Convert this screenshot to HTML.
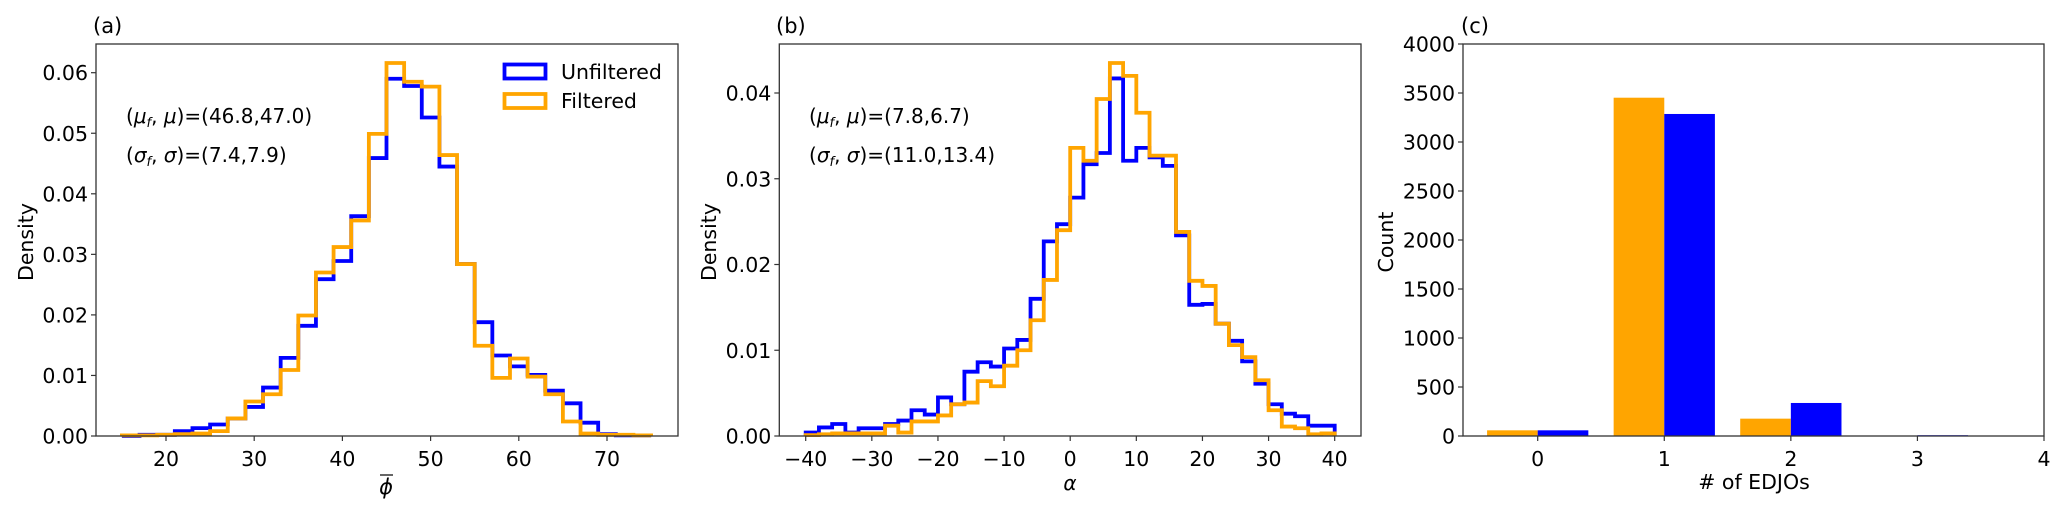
<!DOCTYPE html>
<html><head><meta charset="utf-8"><style>
body{margin:0;background:#fff}
svg text{font-family:"DejaVu Sans","Liberation Sans",sans-serif;fill:#000}
</style></head><body>
<svg id="fig" width="2067" height="514" xmlns="http://www.w3.org/2000/svg"></svg>
<script>
// Panel (a) data: bins 15..75 step 2
const phiEdgesStart = 15, phiBinWidth = 2;
const phiUnfiltered = [0,0.0002,0.0002,0.0008,0.0013,0.0019,0.0029,0.0048,0.008,0.0129,0.0182,0.0259,0.0289,0.0363,0.0459,0.059,0.0578,0.0526,0.0445,0.0284,0.0188,0.0133,0.0115,0.0101,0.0075,0.0054,0.0022,0.0003,0.0001,0.0001];
const phiFiltered = [0.0001,0.0001,0.0002,0.0003,0.0004,0.0008,0.0029,0.0057,0.0069,0.0109,0.0199,0.027,0.0312,0.0356,0.0499,0.0616,0.0585,0.0577,0.0464,0.0284,0.0149,0.0096,0.0128,0.0098,0.0069,0.0024,0.0004,0.0002,0.0002,0.0001];
const phiXTicks = [20,30,40,50,60,70];
const phiYTicks = [0,0.01,0.02,0.03,0.04,0.05,0.06];
// Panel (b) data: bins -40..40 step 2
const alphaEdgesStart = -40, alphaBinWidth = 2;
const alphaUnfiltered = [0.0004,0.001,0.0014,0.0004,0.0009,0.0009,0.0014,0.0018,0.003,0.0025,0.0045,0.0037,0.0075,0.0086,0.0081,0.0102,0.0112,0.016,0.0227,0.0247,0.0278,0.0317,0.033,0.0417,0.0321,0.0336,0.0325,0.0315,0.0234,0.0153,0.0154,0.0131,0.0111,0.0087,0.0061,0.0037,0.0026,0.0023,0.0012,0.0012];
const alphaFiltered = [0.0001,0.0002,0.0003,0.0003,0.0003,0.0003,0.0012,0.0004,0.0017,0.0017,0.0024,0.0037,0.0039,0.0064,0.0058,0.0082,0.01,0.0135,0.0182,0.024,0.0336,0.0321,0.0393,0.0435,0.042,0.0377,0.0327,0.0327,0.0238,0.0181,0.0175,0.0131,0.0106,0.0092,0.0065,0.003,0.0011,0.0009,0.0002,0.0003];
const alphaXTicks = [-40,-30,-20,-10,0,10,20,30,40];
const alphaYTicks = [0,0.01,0.02,0.03,0.04];
// Panel (c) data
const edjoCategories = [0,1,2,3];
const edjoFiltered = [58,3452,177,0];
const edjoUnfiltered = [58,3286,337,8];
const countYTicks = [0,500,1000,1500,2000,2500,3000,3500,4000];
const countXTicks = [0,1,2,3,4];

const FS=20.5;
const NS="http://www.w3.org/2000/svg";
const svg=document.getElementById('fig');
function el(tag,attrs,parent){const e=document.createElementNS(NS,tag);for(const k in attrs)e.setAttribute(k,attrs[k]);(parent||svg).appendChild(e);return e;}
function txt(s,x,y,attrs,parent){const t=el('text',Object.assign({x:x,y:y,'font-size':FS},attrs||{}),parent);t.textContent=s;return t;}
function lin(d0,d1,r0,r1){return v=>r0+(v-d0)*(r1-r0)/(d1-d0);}
const TOP=44,BOT=436;

function axesFrame(g,L,R,xs,ys,xt,yt,fmtY,fmtX){
  el('rect',{x:L,y:TOP,width:R-L,height:BOT-TOP,fill:'none',stroke:'#333','stroke-width':1.3},g);
  xt.forEach(v=>{const x=xs(v);
    const tk=el('line',{x1:x,x2:x,y1:BOT,y2:BOT+5,stroke:'#333','stroke-width':1.2},g);
    
    
    const t=txt(fmtX(v),x,BOT+30,{'text-anchor':'middle'},g);
    
    });
  yt.forEach(v=>{const y=ys(v);
    const tk=el('line',{x1:L-5,x2:L,y1:y,y2:y,stroke:'#333','stroke-width':1.2},g);
    
    
    const t=txt(fmtY(v),L-8,y+7.5,{'text-anchor':'end'},g);
    
    });
}
function stepPath(start,w,vals,xs,ys){
  let d='M'+xs(start)+','+ys(0);
  vals.forEach((v,i)=>{const x0=xs(start+i*w),x1=xs(start+(i+1)*w);d+=' L'+x0+','+ys(v)+' L'+x1+','+ys(v);});
  d+=' L'+xs(start+vals.length*w)+','+ys(0);return d;
}

// Panel a
{const g=el('g',{});
 const L=96,R=678,xs=lin(20,70,166,607),ys=lin(0,0.06,BOT,72.7);
 const pu=el('path',{d:stepPath(phiEdgesStart,phiBinWidth,phiUnfiltered,xs,ys),fill:'none',stroke:'#0000ff','stroke-width':3.8},g);
 
 const pf=el('path',{d:stepPath(phiEdgesStart,phiBinWidth,phiFiltered,xs,ys),fill:'none',stroke:'#ffa500','stroke-width':3.8},g);
 
 axesFrame(g,L,R,xs,ys,phiXTicks,phiYTicks,v=>v.toFixed(2),v=>String(v));
 const t1=txt('(a)',93,33,{'font-size':21},g);
 const yl=txt('Density',0,0,{'text-anchor':'middle',transform:'translate(33,242) rotate(-90)'},g);
 const xl=txt('ϕ',386,494,{'font-size':21,'text-anchor':'middle','font-style':'italic'},g);
 el('line',{x1:380,x2:393,y1:475,y2:475,stroke:'#000','stroke-width':1.2},g);
 const a1=txt('',126,123,{'font-size':20},g);a1.innerHTML='(<tspan font-style="italic">μ</tspan><tspan font-size="13" dy="4" font-style="italic">f</tspan><tspan dy="-4">, </tspan><tspan font-style="italic">μ</tspan>)=(46.8,47.0)';
 
 const a2=txt('',126,162,{'font-size':20},g);a2.innerHTML='(<tspan font-style="italic">σ</tspan><tspan font-size="13" dy="4" font-style="italic">f</tspan><tspan dy="-4">, </tspan><tspan font-style="italic">σ</tspan>)=(7.4,7.9)';
 
 const lg=el('g',{},g);
 const r1=el('rect',{x:504.5,y:64.5,width:41,height:14,fill:'none',stroke:'#0000ff','stroke-width':3.8},lg);
 const l1=txt('Unfiltered',561,79,{},lg);
 const r2=el('rect',{x:504.5,y:94,width:41,height:14,fill:'none',stroke:'#ffa500','stroke-width':3.8},lg);
 const l2=txt('Filtered',561,108,{},lg);
}
// Panel b
{const g=el('g',{});
 const L=779.3,R=1361,xs=lin(-40,40,805.7,1334.7),ys=lin(0,0.04,BOT,93);
 const pu=el('path',{d:stepPath(alphaEdgesStart,alphaBinWidth,alphaUnfiltered,xs,ys),fill:'none',stroke:'#0000ff','stroke-width':3.8},g);
 
 const pf=el('path',{d:stepPath(alphaEdgesStart,alphaBinWidth,alphaFiltered,xs,ys),fill:'none',stroke:'#ffa500','stroke-width':3.8},g);
 
 axesFrame(g,L,R,xs,ys,alphaXTicks,alphaYTicks,v=>v.toFixed(2),v=>v<0?'−'+Math.abs(v):String(v));
 const t1=txt('(b)',776,33,{'font-size':21},g);
 const yl=txt('Density',0,0,{'text-anchor':'middle',transform:'translate(716,242) rotate(-90)'},g);
 const xl=txt('α',1070,490,{'font-size':20,'text-anchor':'middle','font-style':'italic'},g);
 const a1=txt('',809,123,{'font-size':20},g);a1.innerHTML='(<tspan font-style="italic">μ</tspan><tspan font-size="13" dy="4" font-style="italic">f</tspan><tspan dy="-4">, </tspan><tspan font-style="italic">μ</tspan>)=(7.8,6.7)';
 
 const a2=txt('',809,162,{'font-size':20},g);a2.innerHTML='(<tspan font-style="italic">σ</tspan><tspan font-size="13" dy="4" font-style="italic">f</tspan><tspan dy="-4">, </tspan><tspan font-style="italic">σ</tspan>)=(11.0,13.4)';
 
}
// Panel c
{const g=el('g',{});
 const L=1463,R=2044,xs=lin(0,4,1537.7,2044),ys=lin(0,4000,BOT,44);
 const bw=0.4;
 edjoCategories.forEach((c,i)=>{
   const hf=BOT-ys(edjoFiltered[i]);
   const bf=el('rect',{x:xs(c-bw),y:ys(edjoFiltered[i]),width:xs(c)-xs(c-bw),height:hf,fill:'#ffa500'},g);
   
   
   const hu=BOT-ys(edjoUnfiltered[i]);
   const bu=el('rect',{x:xs(c),y:ys(edjoUnfiltered[i]),width:xs(c+bw)-xs(c),height:hu,fill:'#0000ff'},g);
   
   
 });
 axesFrame(g,L,R,xs,ys,countXTicks,countYTicks,v=>String(v),v=>String(v));
 const t1=txt('(c)',1461,33,{'font-size':21},g);
 const yl=txt('Count',0,0,{'text-anchor':'middle',transform:'translate(1393,242) rotate(-90)'},g);
 const xl=txt('# of EDJOs',1754,489,{'text-anchor':'middle'},g);
}
</script>
</body></html>
